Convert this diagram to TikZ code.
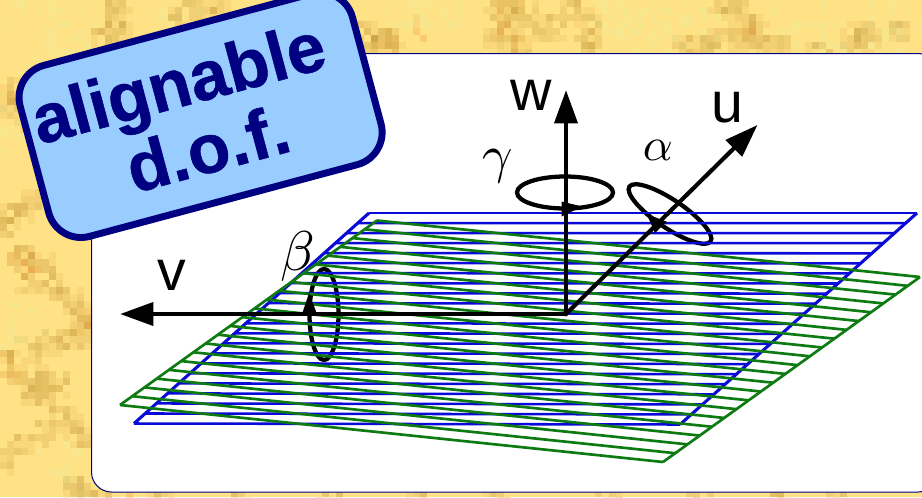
\documentclass[tikz,border=0pt]{standalone}
\usepackage{fontspec}
\setmainfont{Liberation Sans}
\newfontfamily\badgefont[FakeBold=0.7]{Liberation Sans Bold}
\usetikzlibrary{arrows.meta,calc}
\definecolor{bgbase}{HTML}{FFE285}
\definecolor{bglight}{HTML}{F6E78F}
\definecolor{vein}{HTML}{C99A3C}
\definecolor{veinorange}{HTML}{F0A848}
\definecolor{panelline}{HTML}{000080}
\definecolor{badgefill}{HTML}{99CCFF}
\definecolor{bluegrid}{HTML}{0A0AD8}
\definecolor{greengrid}{HTML}{0E7A12}
\tikzset{
  axis/.style={line width=3.6pt,-{Triangle[length=25pt,width=17pt]}},
  ring/.style={line width=3.2pt,black},
  gridblue/.style={bluegrid,line width=1.9pt},
  gridgreen/.style={greengrid,line width=2pt},
  axislabel/.style={inner sep=0pt,font=\fontsize{43pt}{43pt}\selectfont},
  greek/.style={inner sep=0pt},
  badgetext/.style={inner sep=0pt,text=panelline,rotate=15,anchor=base,font=\badgefont\fontsize{52pt}{52pt}\selectfont},
}
\begin{document}
\begin{tikzpicture}[x=0.75pt,y=-0.75pt]
\useasboundingbox (0,0) rectangle (922,497);
\begin{scope}
\clip (0,0) rectangle (922,497);
% background texture
\fill[bgbase] (0,0) rectangle (922,497);
\pgfmathsetseed{11}
\foreach \cxa/\cya in {400/8,440/10,600/5,640/6,660/30,620/15,800/10,880/20,900/45,640/48,700/25,820/45,30/20,60/60,20/130,60/190,20/320,60/470,
  70/30,180/5,300/6,340/14}{
  \foreach \k in {1,...,16}{
    \pgfmathsetmacro\px{7*floor((\cxa+rand*24)/7)}
    \pgfmathsetmacro\py{7*floor((\cya+rand*24)/7)}
    \fill[bglight,opacity=.7] (\px,\py) rectangle ++(7,7);
  }
}
\foreach \cxa/\cya in {
  117/8,117/22,117/33,100/38,217/5,200/10,180/14,367/33,380/38,393/43,372/48,385/40,
  513/4,510/18,500/12,525/15,495/35,510/40,520/45,540/30,555/25,575/12,590/22,585/40,590/50,
  720/3,735/5,745/20,755/30,763/42,735/30,713/43,700/48,686/47,740/44,780/48,820/52,
  853/33,870/35,900/30,860/42,
  6/90,15/95,12/110,30/118,45/135,
  33/200,20/210,10/217,8/225,
  20/257,27/260,40/263,27/280,45/278,60/290,70/300,80/313,85/325,80/337,65/338,50/343,
  30/350,5/360,17/373,33/385,45/380,57/387,33/395,45/400,63/417,70/425,83/437,43/433,
  20/445,3/460,73/490,85/485,
  100/495,160/495,240/495,330/495,420/495,500/495,610/495,700/495,780/495,840/495}{
  \foreach \k in {1,...,18}{
    \pgfmathsetmacro\px{7*floor((\cxa+rand*11)/7)}
    \pgfmathsetmacro\py{7*floor((\cya+rand*11)/7)}
    \fill[vein,opacity=.13] (\px,\py) rectangle ++(7,7);
  }
}
\foreach \cxa/\cya in {15/258,30/262,35/268,85/320,5/365,15/370,510/6,495/30,520/40,385/48,420/30,745/28,5/95,125/490}{
  \foreach \k in {1,...,6}{
    \pgfmathsetmacro\px{7*floor((\cxa+rand*10)/7)}
    \pgfmathsetmacro\py{7*floor((\cya+rand*10)/7)}
    \fill[veinorange,opacity=.2] (\px,\py) rectangle ++(7,7);
  }
}
% white panel
\draw[panelline,fill=white,line width=0.75pt,rounded corners=15pt] (91.5,53.5) rectangle (938,492);
\end{scope}
% rotation rings (under the planes)
\draw[ring] (565,192.5) ellipse [x radius=48,y radius=16];
\draw[ring,shift={(670,214)},rotate=-34] (0,0) ellipse [x radius=49,y radius=14];
\draw[ring] (324,314.5) ellipse [x radius=14.5,y radius=45.5];
% blue plane
\coordinate (btl) at (369,213);
\coordinate (btr) at (917,213);
\coordinate (bbl) at (134,423.5);
\coordinate (bbr) at (680,424.5);
\foreach \i in {0,...,21}{
  \pgfmathsetmacro\t{\i/21}
  \draw[gridblue] ($(btl)!\t!(bbl)$) -- ($(btr)!\t!(bbr)$);
}
\draw[gridblue,line width=2.3pt] (btl) -- (bbl);
\draw[gridblue,line width=2.3pt] (btr) -- (bbr);
% green plane
\coordinate (gtl) at (377,220.5);
\coordinate (gtr) at (920,277);
\coordinate (gbl) at (120,405);
\coordinate (gbr) at (663,462);
\foreach \i in {0,...,21}{
  \pgfmathsetmacro\t{\i/21}
  \draw[gridgreen] ($(gtl)!\t!(gbl)$) -- ($(gtr)!\t!(gbr)$);
}
\draw[gridgreen] (gtl) -- (gbl);
\draw[gridgreen] (gtr) -- (gbr);
% axes
\coordinate (o) at (566,314);
\coordinate (wtip) at (566,90);
\coordinate (utip) at (757.5,125);
\coordinate (vtip) at (120,314);
\draw[axis,line cap=round] (o) -- (wtip);
\draw[axis,line width=3.1pt] (o) -- (utip);
\draw[axis] (o) -- (vtip);
% ring arrowheads
\fill (561.5,201.5) -- (582,206.5) -- (561.5,216.5) -- cycle;
\fill (646.7,214) -- (666.7,221.7) -- (655,233) -- cycle;
\fill (309,293) -- (317,314) -- (302,314) -- cycle;
% labels
\node[axislabel,anchor=base] (wlabel) at (531,110) {w};
\node[axislabel,anchor=base] (ulabel) at (727,122) {u};
\node[axislabel,anchor=base] (vlabel) at (172,290) {v};
\node[greek,scale=3.5] (alpha) at (658,150) {$\alpha$};
\node[greek,scale=4.2] (beta) at (298,256.5) {$\beta$};
\node[greek,scale=4.0] (gamma) at (497.5,166.5) {$\gamma$};
% badge
\draw[panelline,fill=badgefill,line width=5.2pt,rounded corners=25pt,shift={(200.6,115)},rotate=15]
  (-172,-88.5) rectangle (172,88.5);
\node[badgetext] (align) at (184.5,106) {alignable};
\node[badgetext] (dof) at (214,172) {d.o.f.};
\end{tikzpicture}
\end{document}
